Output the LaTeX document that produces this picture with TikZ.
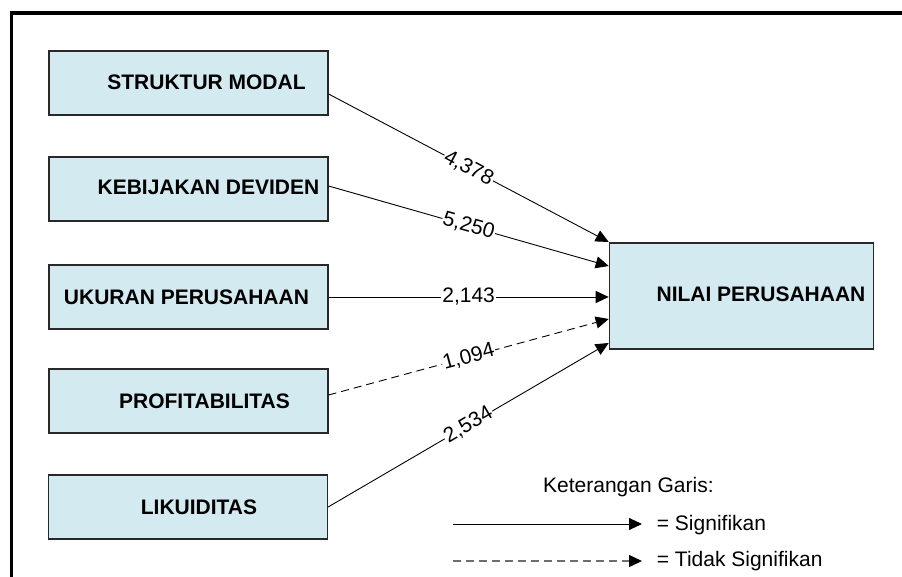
\documentclass[tikz,border=0pt]{standalone}
\usepackage{fontspec}
\setmainfont{Liberation Sans}
\usetikzlibrary{arrows.meta,calc}
\definecolor{boxfill}{RGB}{210,234,240}
\definecolor{boxline}{RGB}{40,40,40}
\definecolor{legendgray}{RGB}{110,110,110}
\begin{document}
\begin{tikzpicture}[x=1pt,y=-1pt,
  varbox/.style={draw=boxline, line width=1.2pt, fill=boxfill, minimum width=279pt, minimum height=64pt, inner sep=0pt},
  boxtext/.style={font=\fontsize{21}{25}\selectfont\bfseries, inner sep=0pt},
  conn/.style={line width=0.9pt, -{Triangle[length=13pt,width=12pt]}},
  dashconn/.style={conn, dash pattern=on 8pt off 5pt},
  val/.style={font=\fontsize{21}{25}\selectfont, fill=white, inner sep=1pt, sloped, midway},
  legtext/.style={font=\fontsize{21}{25}\selectfont, inner sep=0pt, anchor=base west}
]
\useasboundingbox (0,0) rectangle (902,577);
\draw[line width=3.2pt] (11.5,577) -- (11.5,13) -- (902,13);

% boxes
\node[varbox] (sm) at (188.5,83) {};
\node[varbox] (kd) at (188.5,189) {};
\node[varbox] (up) at (188.5,297) {};
\node[varbox] (pr) at (188.5,401) {};
\node[varbox] (lk) at (188,507) {};
\node[varbox, minimum width=264pt, minimum height=106pt] (np) at (741.3,296) {};

% box texts
\node[boxtext] (tsm) at (206.5,82) {STRUKTUR MODAL};
\node[boxtext] (tkd) at (208.5,187.5) {KEBIJAKAN DEVIDEN};
\node[boxtext] (tup) at (186.5,297) {UKURAN PERUSAHAAN};
\node[boxtext] (tpr) at (204.5,401) {PROFITABILITAS};
\node[boxtext] (tlk) at (199,507) {LIKUIDITAS};
\node[boxtext] (tnp) at (761,294) {NILAI PERUSAHAAN};

% connectors
\coordinate (s1) at ($(sm.east)+(0,11)$);
\coordinate (s2) at ($(kd.east)+(0,-3)$);
\coordinate (s3) at (up.east);
\coordinate (s4) at ($(pr.east)+(0,-6)$);
\coordinate (s5) at (lk.east);
\coordinate (e1) at ($(np.west)+(0,-54)$);
\coordinate (e2) at ($(np.west)+(0,-30)$);
\coordinate (e3) at ($(np.west)+(0,1)$);
\coordinate (e4) at ($(np.west)+(0,23)$);
\coordinate (e5) at ($(np.west)+(0,47)$);

\draw[conn] (s1) -- node[val] {4,378} (e1);
\draw[conn] (s2) -- node[val] {5,250} (e2);
\draw[conn] (s3) -- node[val] {2,143} (e3);
\draw[dashconn] (s4) -- node[val] {1,094} (e4);
\draw[conn] (s5) -- node[val] {2,534} (e5);

% legend
\node[legtext] (ket) at (543,492.7) {Keterangan Garis:};
\coordinate (la1) at (453,524);
\coordinate (lb1) at (642,524);
\coordinate (la2) at (453,561);
\coordinate (lb2) at (642,561);
\draw[conn] (la1) -- (lb1);
\draw[line width=1.3pt, draw=legendgray, dash pattern=on 8pt off 5pt, -{Triangle[length=13pt,width=12pt,color=black]}] (la2) -- (lb2);
\node[legtext] (sig) at (656.7,530.7) {= Signifikan};
\node[legtext] (tsig) at (656.7,566.7) {= Tidak Signifikan};
\end{tikzpicture}
\end{document}
